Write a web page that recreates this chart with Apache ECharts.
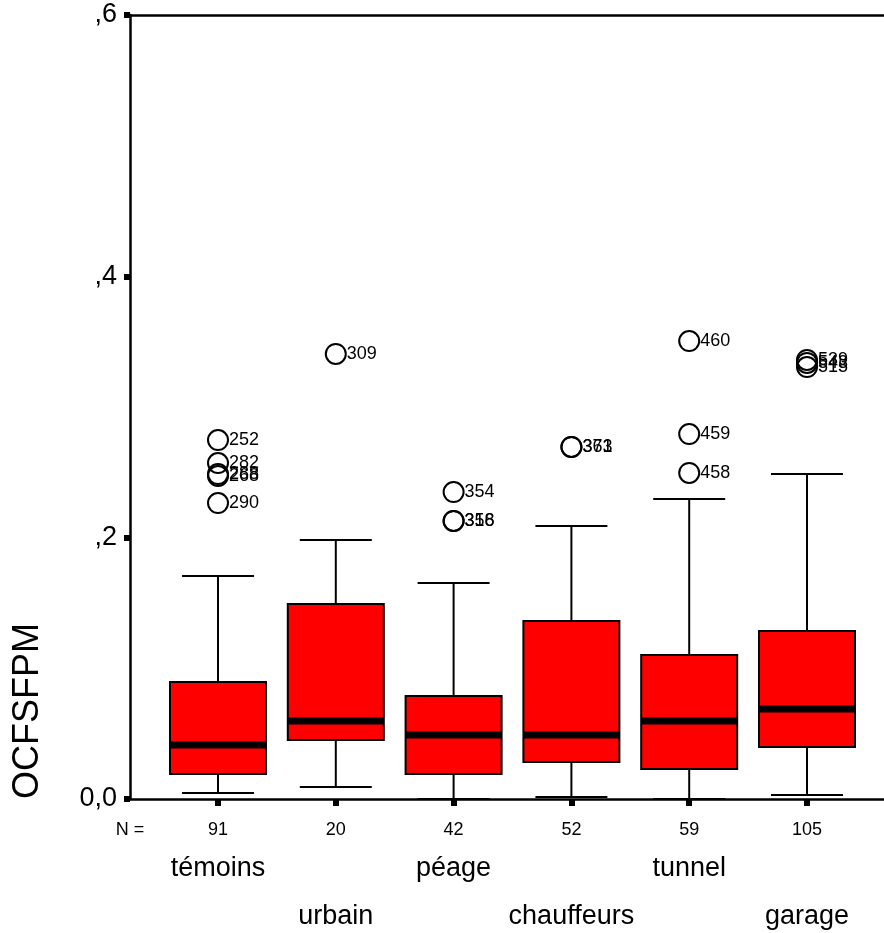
<!DOCTYPE html>
<html>
<head>
<meta charset="utf-8">
<script src="https://cdn.jsdelivr.net/npm/echarts@6/dist/echarts.min.js"></script>
<style>
html,body{margin:0;padding:0;background:#fff;}
#c{width:884px;height:933px;}
</style>
</head>
<body>
<div id="c"></div>
<script>
const categories = ['témoins', 'urbain', 'péage', 'chauffeurs', 'tunnel', 'garage'];
const counts = [91, 20, 42, 52, 59, 105];
const lowerWhisker = [0.0046, 0.0092, 0.0, 0.0015, 0.0, 0.0031];
const q1 = [0.0191, 0.0452, 0.0191, 0.0283, 0.0230, 0.0398];
const median = [0.0413, 0.0597, 0.0490, 0.0490, 0.0597, 0.0689];
const q3 = [0.0895, 0.1492, 0.0788, 0.1362, 0.1102, 0.1286];
const upperWhisker = [0.1707, 0.1982, 0.1653, 0.2089, 0.2296, 0.2487];
const outlierGroup = [0, 0, 0, 0, 0, 1, 2, 2, 2, 3, 3, 4, 4, 4, 5, 5, 5];
const outlierValue = [0.2747, 0.2571, 0.2487, 0.2472, 0.2265, 0.3406, 0.2349, 0.2128, 0.2128, 0.2694, 0.2694, 0.3505, 0.2793, 0.2495, 0.3360, 0.3337, 0.3306];
const outlierLabel = ['252', '282', '288', '268', '290', '309', '354', '356', '318', '373', '361', '460', '459', '458', '539', '543', '515'];
const yTicks = [0, 0.2, 0.4, 0.6];
const yTickLabels = ['0,0', ',2', ',4', ',6'];

const FONT = 'Arial, "Liberation Sans", sans-serif';
const positions = categories.map((c, i) => i + 1);

const boxData = categories.map((c, i) => [i + 1, lowerWhisker[i], q1[i], median[i], q3[i], upperWhisker[i]]);
const outData = outlierGroup.map((g, k) => [g + 1, outlierValue[k], outlierLabel[k]]);

const chart = echarts.init(document.getElementById('c'), null, {renderer: 'canvas'});

function renderBox(params, api) {
  const x = api.value(0);
  const lo = api.coord([x, api.value(1)]);
  const b1 = api.coord([x, api.value(2)]);
  const md = api.coord([x, api.value(3)]);
  const b3 = api.coord([x, api.value(4)]);
  const hi = api.coord([x, api.value(5)]);
  const boxW = api.size([0.815, 0])[0];
  const capW = api.size([0.611, 0])[0];
  const cx = lo[0];
  const ls = {stroke: '#000', lineWidth: 2};
  return {
    type: 'group',
    children: [
      {type: 'line', shape: {x1: cx, y1: b1[1], x2: cx, y2: lo[1]}, style: ls},
      {type: 'line', shape: {x1: cx, y1: b3[1], x2: cx, y2: hi[1]}, style: ls},
      {type: 'line', shape: {x1: cx - capW / 2, y1: lo[1], x2: cx + capW / 2, y2: lo[1]}, style: ls},
      {type: 'line', shape: {x1: cx - capW / 2, y1: hi[1], x2: cx + capW / 2, y2: hi[1]}, style: ls},
      {type: 'rect', shape: {x: cx - boxW / 2, y: b3[1], width: boxW, height: b1[1] - b3[1]},
        style: {fill: '#ff0000', stroke: '#000', lineWidth: 2}},
      {type: 'line', shape: {x1: cx - boxW / 2, y1: md[1], x2: cx + boxW / 2, y2: md[1]},
        style: {stroke: '#000', lineWidth: 7}}
    ]
  };
}

const xMin = 1 - 88 / 117.8;
const xMax = 6 + 77 / 117.8;

chart.setOption({
  animation: false,
  backgroundColor: '#fff',
  grid: {left: 130, right: 0, top: 15, bottom: 134, containLabel: false},
  xAxis: [
    {
      type: 'value', position: 'bottom', min: xMin, max: xMax,
      axisLine: {show: true, onZero: false, lineStyle: {color: '#000', width: 2.5}},
      axisTick: {show: true, customValues: positions, length: 7, lineStyle: {color: '#000', width: 6}},
      splitLine: {show: false},
      axisLabel: {
        customValues: positions, margin: 21, color: '#000', fontFamily: FONT,
        formatter: function (v) {
          const i = Math.round(v) - 1;
          if (i < 0 || i >= categories.length) return '';
          return (i % 2 === 0)
            ? '{n|' + counts[i] + '}\n{a|' + categories[i] + '}'
            : '{n|' + counts[i] + '}\n{b|' + categories[i] + '}';
        },
        rich: {
          n: {fontSize: 18, lineHeight: 20, fontFamily: FONT, color: '#000'},
          a: {fontSize: 27, lineHeight: 58, fontFamily: FONT, color: '#000'},
          b: {fontSize: 27, lineHeight: 154, fontFamily: FONT, color: '#000'}
        }
      }
    },
    {
      type: 'value', position: 'top', min: xMin, max: xMax,
      axisLine: {show: true, onZero: false, lineStyle: {color: '#000', width: 2.5}},
      axisTick: {show: false}, axisLabel: {show: false}, splitLine: {show: false}
    }
  ],
  yAxis: {
    type: 'value', min: 0, max: 0.6, interval: 0.2,
    axisLine: {show: true, onZero: false, lineStyle: {color: '#000', width: 2.5}},
    axisTick: {show: true, length: 6, lineStyle: {color: '#000', width: 6}},
    splitLine: {show: false},
    axisLabel: {
      margin: 13, fontSize: 27, color: '#000', fontFamily: FONT,
      formatter: function (v) {
        for (let k = 0; k < yTicks.length; k++) {
          if (Math.abs(v - yTicks[k]) < 1e-9) return yTickLabels[k];
        }
        return '';
      }
    }
  },
  graphic: [
    {type: 'text', x: 28, y: 711, rotation: Math.PI / 2,
      style: {text: 'OCFSFPM', fontSize: 36, fontFamily: FONT, fill: '#000', align: 'center', verticalAlign: 'middle'}},
    {type: 'text', x: 130, y: 830,
      style: {text: 'N =', fontSize: 18, fontFamily: FONT, fill: '#000', align: 'center', verticalAlign: 'middle'}}
  ],
  series: [
    {
      type: 'custom', xAxisIndex: 0, renderItem: renderBox,
      encode: {x: 0, y: [1, 2, 3, 4, 5]},
      data: boxData, clip: false, z: 2
    },
    {
      type: 'scatter', xAxisIndex: 0, symbol: 'circle', symbolSize: 20,
      itemStyle: {color: 'rgba(0,0,0,0)', borderColor: '#000', borderWidth: 2, opacity: 1},
      label: {show: true, position: 'right', distance: 0, fontSize: 18, fontFamily: FONT, color: '#000',
        formatter: function (p) { return p.value[2]; }},
      emphasis: {disabled: true},
      data: outData, z: 3
    }
  ]
});
</script>
</body>
</html>
